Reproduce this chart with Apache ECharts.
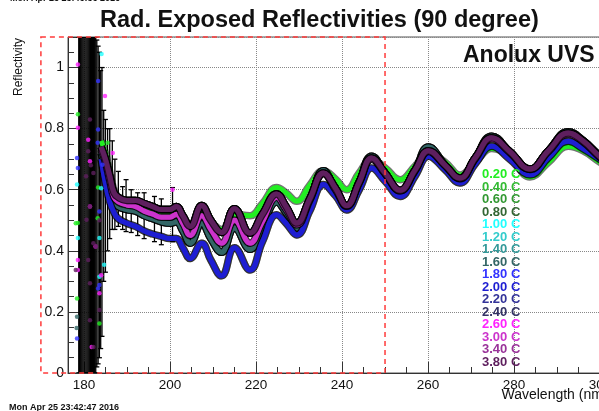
<!DOCTYPE html>
<html>
<head>
<meta charset="utf-8">
<title>Rad. Exposed Reflectivities (90 degree)</title>
<script src="https://cdn.jsdelivr.net/npm/echarts@6/dist/echarts.min.js"></script>
<style>
  html, body { margin: 0; padding: 0; background: #fff; }
  #chart { width: 599px; height: 411px; }
</style>
</head>
<body>
<div id="chart"></div>
<script>
// wavelength nodes (nm): peaks, troughs and mid points
var waveNodes = [184, 185, 186, 187, 188, 190, 192, 194, 196, 198, 200, 201.5, 203, 204.7, 207.4, 209.5,
  212, 215, 218.6, 221.5, 224.8, 227, 229.5, 232.5, 235.7, 238.5, 241.1, 244, 246.9, 250, 253.5, 257,
  260.1, 264, 267.4, 271, 274.8, 279, 283.7, 288, 292.6, 296, 300, 302];

// reflectivity profiles of the visible bands
var reflGreen = [0.76, 0.72, 0.66, 0.60, 0.575, 0.555, 0.55, 0.54, 0.53, 0.52, 0.515, 0.525, 0.505, 0.48, 0.52, 0.495,
  0.47, 0.52, 0.515, 0.555, 0.607, 0.59, 0.562, 0.615, 0.662, 0.635, 0.60, 0.655, 0.70, 0.672, 0.633, 0.678,
  0.718, 0.69, 0.648, 0.69, 0.735, 0.708, 0.642, 0.69, 0.742, 0.728, 0.69, 0.675];
var reflCyan = [0.72, 0.67, 0.61, 0.56, 0.545, 0.535, 0.53, 0.515, 0.505, 0.495, 0.49, 0.495, 0.465, 0.425, 0.49, 0.44,
  0.395, 0.475, 0.405, 0.48, 0.56, 0.525, 0.475, 0.56, 0.662, 0.60, 0.545, 0.625, 0.71, 0.655, 0.595, 0.665,
  0.74, 0.68, 0.635, 0.705, 0.775, 0.725, 0.665, 0.728, 0.79, 0.762, 0.71, 0.69];
var reflBlue = [0.70, 0.62, 0.56, 0.525, 0.505, 0.49, 0.48, 0.465, 0.455, 0.447, 0.44, 0.44, 0.41, 0.375, 0.425, 0.37,
  0.318, 0.41, 0.337, 0.43, 0.518, 0.49, 0.452, 0.53, 0.617, 0.58, 0.534, 0.60, 0.671, 0.628, 0.578, 0.645,
  0.71, 0.665, 0.622, 0.685, 0.742, 0.70, 0.649, 0.705, 0.759, 0.735, 0.699, 0.68];
var reflMagenta = [0.73, 0.69, 0.63, 0.575, 0.56, 0.55, 0.545, 0.53, 0.52, 0.51, 0.51, 0.52, 0.49, 0.45, 0.515, 0.47,
  0.425, 0.50, 0.425, 0.495, 0.575, 0.535, 0.485, 0.565, 0.652, 0.60, 0.546, 0.622, 0.70, 0.652, 0.596, 0.662,
  0.725, 0.678, 0.636, 0.702, 0.766, 0.722, 0.666, 0.725, 0.782, 0.757, 0.705, 0.686];
var reflPurple = [0.74, 0.70, 0.645, 0.59, 0.575, 0.565, 0.565, 0.555, 0.545, 0.535, 0.535, 0.545, 0.515, 0.48, 0.548, 0.50,
  0.46, 0.538, 0.458, 0.52, 0.586, 0.545, 0.491, 0.57, 0.655, 0.605, 0.548, 0.625, 0.704, 0.655, 0.598, 0.665,
  0.728, 0.68, 0.638, 0.705, 0.770, 0.725, 0.668, 0.728, 0.786, 0.76, 0.708, 0.688];

// legend entries and which band each one follows
var tempLabels = ['0.20 C', '0.40 C', '0.60 C', '0.80 C', '1.00 C', '1.20 C', '1.40 C', '1.60 C',
  '1.80 C', '2.00 C', '2.20 C', '2.40 C', '2.60 C', '3.00 C', '3.40 C', '3.80 C'];
var tempProfile = ['green', 'purple', 'purple', 'purple', 'cyan', 'cyan', 'cyan', 'cyan',
  'blue', 'blue', 'purple', 'purple', 'magenta', 'magenta', 'purple', 'purple'];
var tempColors = ['#22ee22', '#33bb33', '#339933', '#336633', '#22ffff', '#33cccc', '#339999', '#336666',
  '#3333ff', '#1e1ed2', '#333399', '#333366', '#ff22ff', '#cc33cc', '#993399', '#5e1f5e'];

// scattered points in the noisy region below 186 nm [wavelength, reflectivity]
var noiseGreen = [[178.6, 0.847], [178.6, 0.491], [178.4, 0.244], [183.6, 0.162], [183.3, 0.607], [185.5, 0.754], [183.2, 0.507], [178.1, 0.49]];
var noiseCyan = [[184.1, 1.044], [178.4, 0.617], [178.6, 0.442], [183.6, 0.442], [183.6, 0.315], [184.7, 0.354], [184.0, 0.605]];
var noiseTeal = [[178.4, 0.184], [178.3, 0.147]];
var noiseBlue = [[183.3, 0.956], [183.3, 0.797], [178.4, 0.704], [178.6, 0.671], [183.6, 0.529], [183.3, 0.277], [178.4, 0.113],
  [183.2, 0.754], [184.3, 0.682], [183.6, 0.288]];
var noiseMagenta = [[178.6, 1.01], [184.9, 0.907], [178.6, 0.803], [181.0, 0.764], [181.4, 0.693], [181.4, 0.545], [178.6, 0.370],
  [182.7, 0.414], [178.6, 0.337], [183.6, 0.261], [181.8, 0.085], [186.7, 0.72], [184.0, 0.32], [200.6, 0.60]];
var noisePurple = [[181.4, 0.830], [181.0, 0.726], [182.2, 0.655], [181.4, 0.545], [180.6, 0.502], [182.2, 0.425], [181.0, 0.370],
  [181.4, 0.294], [181.4, 0.173], [182.2, 0.085], [181.6, 0.68], [180.5, 0.644], [183.6, 0.50], [182.8, 0.414],
  [178.1, 0.337], [183.6, 0.206]];

// error bars [low, high] of the noisy region
var barWave = [178.8, 179.0, 179.25, 179.5, 179.75, 180.0, 180.25, 180.5, 180.75, 181.0, 181.25, 181.5, 181.75,
  182.0, 182.25, 182.5, 182.75, 183.0, 183.3, 183.6, 183.9, 184.2, 184.6, 185.0, 185.5, 186.0, 186.6, 187.2,
  188.0, 189.0, 189.8, 191.0, 192.5, 194.0, 196.4, 198.0, 200.6];
var barLow = [0, 0, 0, 0, 0, 0, 0, 0, 0, 0, 0, 0, 0,
  0, 0, 0, 0, 0.02, 0.03, 0.05, 0.08, 0.12, 0.30, 0.33, 0.40, 0.44, 0.47, 0.47,
  0.48, 0.47, 0.463, 0.46, 0.45, 0.44, 0.43, 0.42, 0.43];
var barHigh = [1.1, 1.1, 1.1, 1.1, 1.1, 1.1, 1.1, 1.1, 1.1, 1.1, 1.1, 1.1, 1.1,
  1.1, 1.1, 1.1, 1.1, 1.09, 1.07, 1.05, 0.99, 1.0, 0.86, 0.83, 0.80, 0.80, 0.76, 0.70,
  0.66, 0.61, 0.633, 0.60, 0.59, 0.59, 0.578, 0.57, 0.607];

// dashed zoom box drawn in ROOT (wavelength and reflectivity limits)
var boxWave = [170, 250];
var boxRefl = [0, 1.1];

var profiles = { green: reflGreen, cyan: reflCyan, blue: reflBlue, magenta: reflMagenta, purple: reflPurple };
var font = 'Liberation Sans, Arial, Helvetica, sans-serif';

var chart = echarts.init(document.getElementById('chart'));

// error bar with small caps
function renderErrorBar(params, api) {
  var w = api.value(0);
  var lo = api.coord([w, api.value(1)]);
  var hi = api.coord([w, api.value(2)]);
  var st = { stroke: '#000', lineWidth: 1.3 };
  return {
    type: 'group',
    children: [
      { type: 'line', shape: { x1: lo[0], y1: lo[1], x2: hi[0], y2: hi[1] }, style: st },
      { type: 'line', shape: { x1: lo[0] - 2.5, y1: lo[1], x2: lo[0] + 2.5, y2: lo[1] }, style: st },
      { type: 'line', shape: { x1: hi[0] - 2.5, y1: hi[1], x2: hi[0] + 2.5, y2: hi[1] }, style: st }
    ]
  };
}

var series = [];
series.push({
  type: 'custom',
  name: 'errors',
  renderItem: renderErrorBar,
  data: barWave.map(function (w, i) { return [w, barLow[i], barHigh[i]]; }),
  clip: true,
  silent: true,
  z: 1
});

tempLabels.forEach(function (label, i) {
  var vals = profiles[tempProfile[i]];
  var pts = waveNodes.map(function (w, k) { return [w, vals[k]]; });
  // black fringe of the error bars
  series.push({
    type: 'line', name: label, data: pts, smooth: 0.45, symbol: 'none', silent: true,
    lineStyle: { color: '#000', width: 7.5, opacity: 0.55 }, itemStyle: { color: tempColors[i] }, z: 2
  });
  series.push({
    type: 'line', name: label, data: pts, smooth: 0.45, symbol: 'none',
    lineStyle: { color: tempColors[i], width: 5 }, itemStyle: { color: tempColors[i] }, z: 2
  });
});

function noiseSeries(label, pts) {
  var c = tempColors[tempLabels.indexOf(label)];
  return { type: 'scatter', name: label, data: pts, symbol: 'circle', symbolSize: 4.5,
    itemStyle: { color: c }, z: 3 };
}
series.push(noiseSeries('0.20 C', noiseGreen));
series.push(noiseSeries('1.00 C', noiseCyan));
series.push(noiseSeries('1.60 C', noiseTeal));
series.push(noiseSeries('1.80 C', noiseBlue));
series.push(noiseSeries('2.60 C', noiseMagenta));
series.push(noiseSeries('3.80 C', noisePurple));

chart.setOption({
  animation: false,
  backgroundColor: '#fff',
  title: [
    { text: 'Rad. Exposed Reflectivities (90 degree)', left: 100, top: 9, padding: 0,
      textStyle: { fontSize: 23.5, fontWeight: 'bold', color: '#111', fontFamily: font } },
    { text: 'Anolux UVS', left: 463, top: 44, padding: 0,
      textStyle: { fontSize: 23, fontWeight: 'bold', color: '#111', fontFamily: font } },
    { text: 'Mon Apr 25 23:46:36 2016', left: 10, top: -6, padding: 0,
      textStyle: { fontSize: 9, fontWeight: 'bold', color: '#111', fontFamily: font } },
    { text: 'Mon Apr 25 23:42:47 2016', left: 9, top: 403, padding: 0,
      textStyle: { fontSize: 9, fontWeight: 'bold', color: '#111', fontFamily: font } }
  ],
  legend: {
    orient: 'vertical',
    left: 477,
    top: 168,
    padding: 0,
    icon: 'none',
    itemWidth: 0,
    itemHeight: 8,
    itemGap: -0.5,
    selectedMode: false,
    textStyle: { fontSize: 13, fontWeight: 'bold', fontFamily: font, lineHeight: 12.5 },
    data: tempLabels.map(function (l, i) {
      return { name: l, textStyle: { color: tempColors[i] } };
    })
  },
  graphic: [{
    type: 'text',
    x: 13,
    y: 38,
    rotation: Math.PI / 2,
    style: { text: 'Reflectivity', fill: '#111', font: '13px ' + font, textAlign: 'right', textVerticalAlign: 'top' }
  }],
  grid: {
    left: 68, right: -14, top: 37, bottom: 38,
    outerBoundsMode: 'none',
    containLabel: false,
    show: true, borderColor: '#555', borderWidth: 1
  },
  xAxis: {
    type: 'value',
    min: 176.3,
    max: 303,
    splitNumber: 6,
    axisLine: { onZero: false, lineStyle: { color: '#333', width: 1 } },
    axisTick: { inside: true, length: 11, lineStyle: { color: '#333' } },
    minorTick: { show: true, splitNumber: 4, length: 6, lineStyle: { color: '#333' } },
    axisLabel: { color: '#111', fontSize: 13.5, margin: 5, fontFamily: font, showMinLabel: false, showMaxLabel: false },
    splitLine: { show: true, lineStyle: { color: '#888', type: 'dotted', width: 1 } },
    name: 'Wavelength (nm)',
    nameLocation: 'middle',
    nameGap: 15,
    nameMoveOverlap: false,
    nameTextStyle: { color: '#111', fontSize: 14, fontFamily: font, align: 'center', verticalAlign: 'top', padding: [0, 0, 0, 428] }
  },
  yAxis: {
    type: 'value',
    min: 0,
    max: 1.1,
    interval: 0.2,
    axisLine: { show: true, onZero: false, lineStyle: { color: '#333', width: 1 } },
    axisTick: { show: true, inside: true, length: 11, lineStyle: { color: '#333' } },
    minorTick: { show: true, splitNumber: 4, length: 6, lineStyle: { color: '#333' } },
    axisLabel: { color: '#111', fontSize: 14, margin: 4, fontFamily: font, showMaxLabel: false },
    splitLine: { show: true, lineStyle: { color: '#888', type: 'dotted', width: 1 } }
  },
  series: series
});

// red dashed zoom box, placed through the axis scales
var pA = chart.convertToPixel({ gridIndex: 0 }, [boxWave[0], boxRefl[1]]);
var pB = chart.convertToPixel({ gridIndex: 0 }, [boxWave[1], boxRefl[0]]);
chart.setOption({
  graphic: [{}, {
    type: 'rect',
    z: 100,
    shape: { x: pA[0], y: pA[1], width: pB[0] - pA[0], height: pB[1] - pA[1] },
    style: { fill: 'none', stroke: '#ff3b3b', lineWidth: 1.5, lineDash: [5, 4] }
  }]
});
</script>
</body>
</html>
